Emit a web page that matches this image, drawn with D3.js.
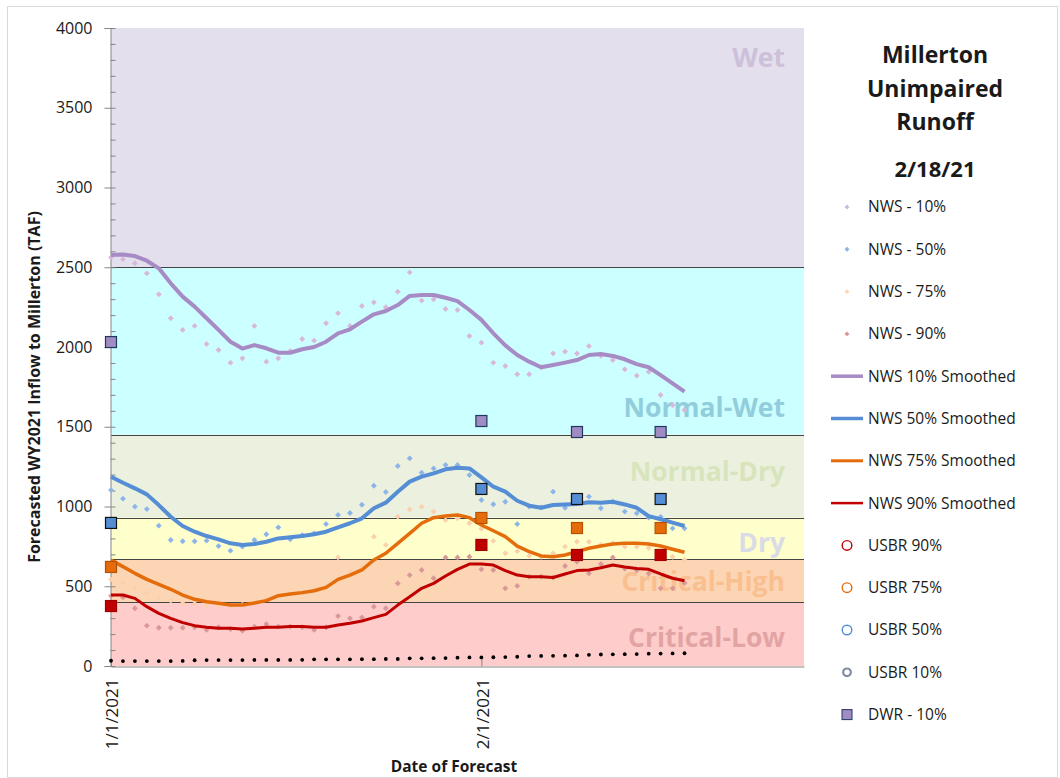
<!DOCTYPE html>
<html>
<head>
<meta charset="utf-8">
<script src="https://cdn.jsdelivr.net/npm/d3@7"></script>
<style>
  body { margin: 0; background: #fff; }
  svg { display: block; }
  text { font-family: "Open Sans", "Noto Sans", sans-serif; fill: #1a1a1a; }
</style>
</head>
<body>
<svg id="chart" width="1060" height="778"></svg>
<script>
// ---- data (TAF) ----
var startDate = new Date(2021, 0, 1);
var endDate = new Date(2021, 1, 28);
var forecastDates = d3.range(49).map(function(i) { return d3.timeDay.offset(startDate, i); });

var nws10 = [2562,2550,2525,2462,2330,2180,2107,2132,2019,1981,1902,1929,2132,1908,1929,1975,2050,2040,2149,2212,2132,2257,2280,2249,2347,2468,2291,2299,2238,2232,2069,2027,1902,1881,1829,1829,1873,1960,1971,1960,2006,1945,1918,1860,1820,1845,1699,1636,1605];
var nws50 = [1103,1049,999,984,880,790,782,782,786,752,723,748,790,826,869,794,821,832,890,947,959,1011,1130,1091,1254,1302,1212,1239,1260,1260,1197,1041,1014,1030,890,1000,995,1093,992,1040,1062,989,1030,968,957,930,935,863,863];
var nws75 = [543,520,490,460,430,410,393,390,380,380,378,385,400,420,440,450,462,475,500,681,590,620,811,759,936,982,999,968,915,926,895,860,784,707,720,690,685,707,748,779,779,760,770,748,748,740,720,685,665];
var nws90 = [440,431,362,253,240,240,240,243,226,243,232,221,247,263,247,247,243,226,243,313,299,305,372,362,518,570,602,550,681,681,685,606,602,487,502,560,560,555,627,654,581,639,681,610,600,580,487,487,520];

var nws10Smooth = [2577,2580,2570,2541,2493,2399,2316,2253,2180,2107,2033,1990,2012,1992,1964,1964,1986,2000,2033,2086,2111,2159,2205,2226,2263,2320,2326,2326,2309,2288,2232,2170,2086,2010,1950,1908,1873,1887,1902,1918,1950,1956,1944,1923,1893,1873,1824,1772,1720];
var nws50Smooth = [1187,1149,1114,1076,1009,936,878,842,815,794,769,759,765,779,800,807,815,826,842,869,895,926,989,1024,1093,1156,1187,1208,1233,1243,1239,1183,1124,1093,1036,1005,992,1009,1013,1016,1026,1024,1030,1013,992,940,920,899,878];
var nws75Smooth = [665,623,581,543,512,481,445,418,403,393,382,382,395,410,441,451,460,472,493,543,570,602,665,707,769,832,895,930,940,947,930,884,848,811,752,717,690,685,696,717,738,752,765,769,769,765,752,732,713];
var nws90Smooth = [445,445,424,372,330,299,272,253,243,236,236,232,236,243,243,247,247,243,243,257,268,282,303,324,382,434,487,518,564,606,639,639,633,598,570,560,560,555,577,598,602,616,633,621,612,606,577,550,535];

var observed = [33,31,31,31,31,31,32,36,37,37,37,37,38,38,38,38,39,42,42,42,42,43,43,44,44,48,48,49,50,52,54,54,55,56,58,62,63,64,65,66,70,72,73,74,75,77,78,79,80];

var dwrDates = [new Date(2021, 0, 1), new Date(2021, 1, 1), new Date(2021, 1, 9), new Date(2021, 1, 16)];
var dwr10 = [2031, 1536, 1467, 1467];
var dwr50 = [897, 1110, 1047, 1047];
var dwr75 = [621, 928, 865, 865];
var dwr90 = [376, 759, 696, 696];

var bandNames = ['Wet', 'Normal-Wet', 'Normal-Dry', 'Dry', 'Critical-High', 'Critical-Low'];
var bandTops = [4000, 2500, 1450, 930, 670, 400];
var bandBottoms = [2500, 1450, 930, 670, 400, 0];

var yTicks = [0, 500, 1000, 1500, 2000, 2500, 3000, 3500, 4000];
var xTicks = [new Date(2021, 0, 1), new Date(2021, 1, 1)];

var legendItems = ['NWS - 10%', 'NWS - 50%', 'NWS - 75%', 'NWS - 90%',
  'NWS 10% Smoothed', 'NWS 50% Smoothed', 'NWS 75% Smoothed', 'NWS 90% Smoothed',
  'USBR 90%', 'USBR 75%', 'USBR 50%', 'USBR 10%', 'DWR - 10%'];
var titleLines = ['Millerton', 'Unimpaired', 'Runoff'];
var titleDate = '2/18/21';

// ---- styles ----
var bandFill = {
  'Wet': '#e4dfec', 'Normal-Wet': '#ccffff', 'Normal-Dry': '#ebf1de',
  'Dry': '#ffffcc', 'Critical-High': '#fcd5b4', 'Critical-Low': '#ffcccc'
};
var bandText = {
  'Wet': '#ccc0da', 'Normal-Wet': '#92cddc', 'Normal-Dry': '#d8e4bc',
  'Dry': '#d9dce4', 'Critical-High': '#fabf8f', 'Critical-Low': '#e2a4a3'
};
var bandLabelY = { 'Wet': 58, 'Normal-Wet': 408, 'Normal-Dry': 472, 'Dry': 543, 'Critical-High': 582, 'Critical-Low': 638 };

var scatterColor = ['#d8b8da', '#8db4e8', '#fbd1ad', '#d99898'];
var legendDiamond = ['#c9bcdb', '#8db4e2', '#fcd5b5', '#d99694'];
var lineColor = ['#a68bc4', '#558ed5', '#e46c0a', '#c00000'];
var lineWidth = [4, 4, 3.5, 3];

var svg = d3.select('#chart');
var margin = { left: 111, right: 804, top: 28, bottom: 666 };

var x = d3.scaleTime().domain([startDate, endDate]).range([margin.left, margin.right]);
var y = d3.scaleLinear().domain([0, 4000]).range([margin.bottom, margin.top]);

// outer frame
svg.append('rect').attr('x', 7.5).attr('y', 6.5).attr('width', 1050).attr('height', 771)
  .attr('fill', '#fff').attr('stroke', '#d9d9d9');

// Draw bands
bandNames.forEach(function(name, i) {
  svg.append('rect')
    .attr('x', margin.left).attr('width', margin.right - margin.left)
    .attr('y', y(bandTops[i])).attr('height', y(bandBottoms[i]) - y(bandTops[i]))
    .attr('fill', bandFill[name]);
});
bandTops.slice(1).forEach(function(v) {
  svg.append('line')
    .attr('x1', margin.left).attr('x2', margin.right)
    .attr('y1', Math.round(y(v)) + 0.5).attr('y2', Math.round(y(v)) + 0.5)
    .attr('stroke', '#444').attr('stroke-width', 1);
});
bandNames.forEach(function(name) {
  svg.append('text')
    .attr('x', 785).attr('y', bandLabelY[name]).attr('dy', '0.35em')
    .attr('text-anchor', 'end').attr('font-size', 26.5).attr('font-weight', 'bold')
    .style('fill', bandText[name]).text(name);
});

// Axes
var yAxis = svg.append('g').attr('transform', 'translate(' + (margin.left - 0.5) + ',0)')
  .call(d3.axisLeft(y).tickValues(yTicks).tickSize(6).tickPadding(12).tickFormat(d3.format('d')));
var yMinor = svg.append('g').attr('transform', 'translate(' + (margin.left - 0.5) + ',0)')
  .call(d3.axisRight(y).tickValues(d3.range(0, 4001, 100)).tickSize(5).tickFormat(''));
[yAxis, yMinor].forEach(function(g) {
  g.select('.domain').attr('stroke', '#868686');
  g.selectAll('line').attr('stroke', '#868686');
});
yMinor.select('.domain').remove();
yAxis.selectAll('text').attr('font-size', 16).style('fill', '#1a1a1a');

var xAxis = svg.append('g').attr('transform', 'translate(0,' + (margin.bottom + 0.5) + ')')
  .call(d3.axisBottom(x).tickValues(xTicks).tickSize(-8).tickSizeOuter(0)
    .tickFormat(d3.timeFormat('%-m/%-d/%Y')));
xAxis.select('.domain').attr('stroke', '#868686');
xAxis.selectAll('line').attr('stroke', '#868686');
xAxis.selectAll('text')
  .attr('font-size', 17).style('fill', '#1a1a1a')
  .attr('text-anchor', 'end')
  .attr('transform', 'translate(1,12) rotate(-90)')
  .attr('x', 0).attr('y', 0).attr('dx', 0).attr('dy', '0.35em');

// Axis titles
svg.append('text')
  .attr('transform', 'translate(40,387) rotate(-90)')
  .attr('text-anchor', 'middle').attr('font-size', 16).attr('font-weight', 'bold')
  .text('Forecasted WY2021 Inflow to Millerton (TAF)');
svg.append('text')
  .attr('x', 454).attr('y', 772)
  .attr('text-anchor', 'middle').attr('font-size', 15.5).attr('font-weight', 'bold')
  .text('Date of Forecast');

// NWS scatter (Excel-style diamonds)
var diamond = d3.symbol().type(d3.symbolSquare).size(17);
[nws10, nws50, nws75, nws90].forEach(function(series, k) {
  svg.append('g').selectAll('path')
    .data(series)
    .enter().append('path')
    .attr('d', diamond)
    .attr('transform', function(d, i) { return 'translate(' + x(forecastDates[i]) + ',' + y(d) + ') rotate(45)'; })
    .attr('fill', scatterColor[k]);
});

// Smoothed lines
var line = d3.line()
  .x(function(d, i) { return x(forecastDates[i]); })
  .y(function(d) { return y(d); });
[nws10Smooth, nws50Smooth, nws75Smooth, nws90Smooth].forEach(function(series, k) {
  svg.append('path')
    .datum(series)
    .attr('d', line)
    .attr('fill', 'none')
    .attr('stroke', lineColor[k])
    .attr('stroke-width', lineWidth[k])
    .attr('stroke-linejoin', 'round');
});

// DWR squares
var squareStyles = [
  { fill: '#a08cc2', stroke: '#1f3864' },
  { fill: '#558ed5', stroke: '#111' },
  { fill: '#e46c0a', stroke: '#b85000' },
  { fill: '#c00000', stroke: '#a00000' }
];
[dwr10, dwr50, dwr75, dwr90].forEach(function(series, k) {
  svg.append('g').selectAll('rect')
    .data(series)
    .enter().append('rect')
    .attr('x', function(d, i) { return x(dwrDates[i]) - 5.5; })
    .attr('y', function(d) { return y(d) - 5.5; })
    .attr('width', 11).attr('height', 11)
    .attr('fill', squareStyles[k].fill)
    .attr('stroke', squareStyles[k].stroke).attr('stroke-width', 1.2);
});

// Observed to date
svg.append('g').selectAll('circle')
  .data(observed)
  .enter().append('circle')
  .attr('cx', function(d, i) { return x(forecastDates[i]); })
  .attr('cy', function(d) { return y(d); })
  .attr('r', 1.9)
  .attr('fill', '#000');

// Title
titleLines.forEach(function(t, i) {
  svg.append('text')
    .attr('x', 935).attr('y', 55 + i * 33.5).attr('dy', '0.35em')
    .attr('text-anchor', 'middle').attr('font-size', 23).attr('font-weight', 'bold')
    .text(t);
});
svg.append('text')
  .attr('x', 935).attr('y', 169).attr('dy', '0.35em')
  .attr('text-anchor', 'middle').attr('font-size', 22).attr('font-weight', 'bold')
  .text(titleDate);

// Legend
var usbrColor = ['#c00000', '#e46c0a', '#558ed5', '#7f8ba0'];
var legend = svg.append('g');
legendItems.forEach(function(name, i) {
  var ly = 207 + i * 42.3;
  var g = legend.append('g').attr('transform', 'translate(0,' + ly + ')');
  if (i < 4) {
    g.append('path').attr('d', d3.symbol().type(d3.symbolSquare).size(12))
      .attr('transform', 'translate(847,0) rotate(45)').attr('fill', legendDiamond[i]);
  } else if (i < 8) {
    g.append('line').attr('x1', 831).attr('x2', 863).attr('y1', 0).attr('y2', 0)
      .attr('stroke', lineColor[i - 4]).attr('stroke-width', lineWidth[i - 4] - 0.5);
  } else if (i < 12) {
    g.append('circle').attr('cx', 847).attr('cy', 0).attr('r', i === 11 ? 3.8 : 4.8)
      .attr('fill', 'none').attr('stroke', usbrColor[i - 8]).attr('stroke-width', i === 11 ? 2.2 : 1.4);
  } else {
    g.append('rect').attr('x', 842).attr('y', -5).attr('width', 10).attr('height', 10)
      .attr('fill', '#a08cc2').attr('stroke', '#1f3864').attr('stroke-width', 1);
  }
  g.append('text').attr('x', 868).attr('y', 0).attr('dy', '0.35em')
    .attr('font-size', 15.5).text(name);
});
</script>
</body>
</html>
